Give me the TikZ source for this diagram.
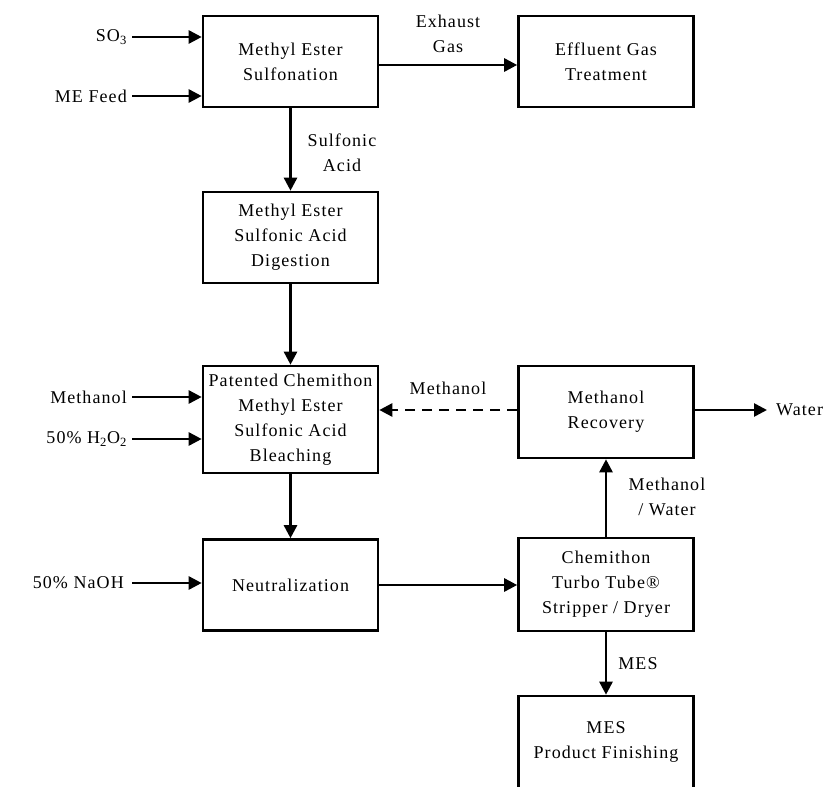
\documentclass[tikz,border=0pt]{standalone}
\usepackage{fontspec}
\setmainfont{Liberation Serif}[LetterSpace=6]
\usetikzlibrary{arrows.meta}
\newcommand\figfont{\fontsize{18}{25}\selectfont}
\begin{document}
\begin{tikzpicture}[x=1pt,y=-1pt,
  box/.style={draw,line width=2.6pt,minimum width=175pt,minimum height=91pt,inner sep=0pt,align=center,font=\figfont},
  lbl/.style={inner sep=0pt,font=\figfont,align=center},
  flow/.style={line width=2.6pt,-{Triangle[length=13pt,width=13pt]}},
  dashflow/.style={flow,dash pattern=on 10pt off 7pt}
]
\useasboundingbox (0,0) rectangle (826,786);
% boxes
\node[box] (sulf) at (290.5,61.5) {Methyl Ester\\Sulfonation};
\node[box] (eff) at (606,61.5) {Effluent Gas\\Treatment};
\node[box] (dig) at (290.5,237.5) {Methyl Ester\\Sulfonic Acid\\Digestion};
\node[box,minimum height=107pt] (bleach) at (290.5,419.5) {Patented Chemithon\\Methyl Ester\\Sulfonic Acid\\Bleaching};
\node[box] (neut) at (290.5,585) {Neutralization};
\node[box,minimum height=92pt] (mrec) at (606,412) {Methanol\\Recovery};
\node[box,minimum height=93pt] (chem) at (606,584.5) {Chemithon\\Turbo Tube®\\Stripper / Dryer};
\node[box,minimum height=92pt] (fin) at (606,742) {MES\\Product Finishing};
% feed labels
\node[lbl,anchor=east] (so3) at (127,37) {SO\textsubscript{3}};
\node[lbl,anchor=east] (mefeed) at (127,96) {ME Feed};
\node[lbl,anchor=east] (meoh) at (127,397) {Methanol};
\node[lbl,anchor=east] (hp) at (127,439) {50\% H\textsubscript{2}O\textsubscript{2}};
\node[lbl,anchor=east] (naoh) at (124,583) {50\% NaOH};
\node[lbl,anchor=west] (water) at (776,410) {Water};
% stream labels
\node[lbl] (exh) at (448,34) {Exhaust\\Gas};
\node[lbl] (sacid) at (342,153) {Sulfonic\\Acid};
\node[lbl] (mrecl) at (448,388) {Methanol};
\node[lbl] (mw) at (667,497) {Methanol\\/ Water};
\node[lbl] (mes) at (638,664) {MES};
% connectors
\draw[flow] ([xshift=5pt]so3.east) -- (so3.east -| sulf.west);
\draw[flow] ([xshift=5pt]mefeed.east) -- (mefeed.east -| sulf.west);
\draw[flow] ([yshift=-3.5pt]sulf.east) -- ([yshift=-3.5pt]eff.west);
\draw[flow] (sulf.south) -- (dig.north);
\draw[flow] (dig.south) -- (bleach.north);
\draw[flow] ([xshift=5pt]meoh.east) -- (meoh.east -| bleach.west);
\draw[flow] ([xshift=5pt]hp.east) -- (hp.east -| bleach.west);
\draw[dashflow] ([yshift=2pt]mrec.west) -- ([yshift=2pt]mrec.west -| bleach.east);
\draw[flow] ([yshift=2pt]mrec.east) -- ([xshift=-9pt,yshift=2pt]water.west |- mrec.east);
\draw[flow] (chem.north) -- (mrec.south);
\draw[flow] (bleach.south) -- (neut.north);
\draw[flow] ([xshift=8pt]naoh.east) -- (naoh.east -| neut.west);
\draw[flow] (neut.east) -- (neut.east -| chem.west);
\draw[flow] (chem.south) -- (fin.north);
\end{tikzpicture}
\end{document}
